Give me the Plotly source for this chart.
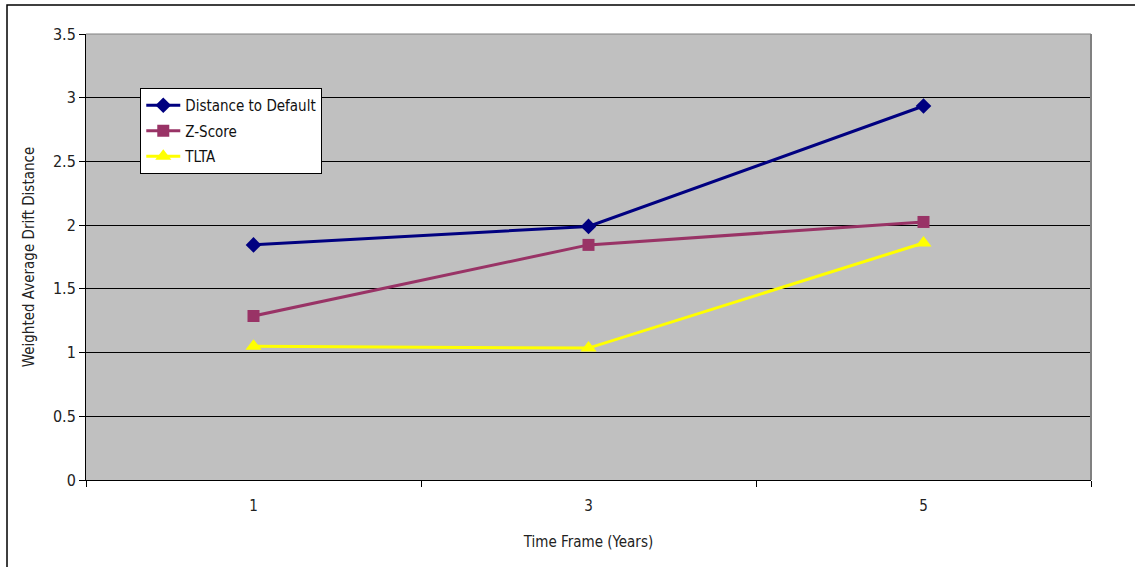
import plotly.graph_objects as go

# Time frames (years) and weighted average drift distance per measure
time_frames = ["1", "3", "5"]
distance_to_default = [1.845, 1.99, 2.935]
z_score = [1.287, 1.845, 2.025]
tlta = [1.05, 1.035, 1.86]

y_ticks = [0, 0.5, 1, 1.5, 2, 2.5, 3, 3.5]
y_tick_text = ["0", "0.5", "1", "1.5", "2", "2.5", "3", "3.5"]

FONT = "DejaVu Sans Condensed, Liberation Sans Narrow, Arial Narrow, Liberation Sans, sans-serif"

series = [
    ("Distance to Default", distance_to_default, "#000080", "diamond", 12),
    ("Z-Score", z_score, "#993366", "square", 12),
    ("TLTA", tlta, "#FFFF00", "triangle-up", 14),
]

fig = go.Figure()
for name, values, color, symbol, size in series:
    fig.add_trace(go.Scatter(
        x=time_frames, y=values, name=name, mode="lines+markers",
        legendgroup=name,
        line=dict(color=color, width=3),
        marker=dict(symbol=symbol, size=size, color=color),
    ))

fig.update_layout(
    width=1135, height=567,
    margin=dict(l=86, r=44, t=34, b=87),
    paper_bgcolor="white", plot_bgcolor="#C0C0C0",
    font=dict(family=FONT, size=14, color="#222222"),
    showlegend=True,
    legend=dict(
        x=0.054, y=0.879, xanchor="left", yanchor="top",
        bgcolor="white", bordercolor="black", borderwidth=1,
        font=dict(family=FONT, size=15, color="#111111"),
        tracegroupgap=3, itemwidth=34,
    ),
    xaxis=dict(
        type="category", tickson="boundaries", ticks="outside",
        ticklen=6, tickcolor="black", showline=True, linecolor="black",
        linewidth=1, showgrid=False, range=[-0.5, 2.5],
        ticklabelstandoff=12,
        title=dict(text="Time Frame (Years)", standoff=22,
                   font=dict(family=FONT, size=15)),
        tickfont=dict(family=FONT, size=15),
    ),
    yaxis=dict(
        range=[0, 3.5], tickvals=y_ticks, ticktext=y_tick_text,
        ticks="outside", ticklen=6, tickcolor="black",
        showline=True, linecolor="black", linewidth=1,
        showgrid=True, gridcolor="#000000", gridwidth=1,
        zeroline=False,
        title=dict(text="Weighted Average Drift Distance", standoff=14,
                   font=dict(family=FONT, size=15)),
        tickfont=dict(family=FONT, size=16),
    ),
    shapes=[
        # top and right edges of the plot area
        dict(type="line", xref="paper", yref="paper", x0=0, x1=1, y0=1, y1=1,
             line=dict(color="#808080", width=1)),
        dict(type="line", xref="paper", yref="paper", x0=1, x1=1, y0=0, y1=1,
             line=dict(color="#808080", width=2)),
        # outer chart frame
        dict(type="rect", xref="paper", yref="paper",
             x0=-0.0786, x1=1.2, y0=-0.4, y1=1.065,
             line=dict(color="black", width=1.5), layer="below"),
    ],
)

fig.write_html("out.html")
